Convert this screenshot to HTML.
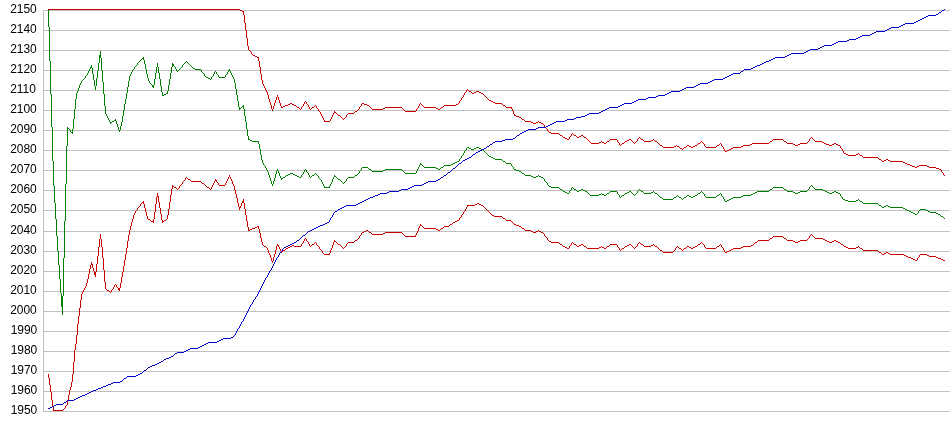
<!DOCTYPE html>
<html lang="en"><head><meta charset="utf-8"><title>Rating chart</title>
<style>html,body{margin:0;padding:0;background:#fff}body{width:950px;height:435px;overflow:hidden}svg{display:block}text{font-family:"Liberation Sans",Arial,sans-serif;font-size:12px;letter-spacing:-0.1px;fill:#000}path{fill:none;stroke-width:1;stroke-linecap:butt}</style></head><body>
<svg width="950" height="435" viewBox="0 0 950 435">
<rect width="950" height="435" fill="#fff"/>
<g shape-rendering="crispEdges" stroke="#c0c0c0" stroke-width="1">
<line x1="43" y1="10.5" x2="950" y2="10.5"/>
<line x1="43" y1="30.5" x2="950" y2="30.5"/>
<line x1="43" y1="50.5" x2="950" y2="50.5"/>
<line x1="43" y1="70.5" x2="950" y2="70.5"/>
<line x1="43" y1="90.5" x2="950" y2="90.5"/>
<line x1="43" y1="110.5" x2="950" y2="110.5"/>
<line x1="43" y1="130.5" x2="950" y2="130.5"/>
<line x1="43" y1="150.5" x2="950" y2="150.5"/>
<line x1="43" y1="170.5" x2="950" y2="170.5"/>
<line x1="43" y1="190.5" x2="950" y2="190.5"/>
<line x1="43" y1="210.5" x2="950" y2="210.5"/>
<line x1="43" y1="231.5" x2="950" y2="231.5"/>
<line x1="43" y1="251.5" x2="950" y2="251.5"/>
<line x1="43" y1="271.5" x2="950" y2="271.5"/>
<line x1="43" y1="291.5" x2="950" y2="291.5"/>
<line x1="43" y1="311.5" x2="950" y2="311.5"/>
<line x1="43" y1="331.5" x2="950" y2="331.5"/>
<line x1="43" y1="351.5" x2="950" y2="351.5"/>
<line x1="43" y1="371.5" x2="950" y2="371.5"/>
<line x1="43" y1="391.5" x2="950" y2="391.5"/>
<line x1="43" y1="411.5" x2="950" y2="411.5"/>
<line x1="43.5" y1="10" x2="43.5" y2="412"/>
</g>
<g>
<text x="10.3" y="12.9">2150</text>
<text x="10.3" y="32.9">2140</text>
<text x="10.3" y="52.9">2130</text>
<text x="10.3" y="72.9">2120</text>
<text x="10.3" y="92.9">2110</text>
<text x="10.3" y="112.9">2100</text>
<text x="10.3" y="132.9">2090</text>
<text x="10.3" y="152.9">2080</text>
<text x="10.3" y="172.9">2070</text>
<text x="10.3" y="192.9">2060</text>
<text x="10.3" y="212.9">2050</text>
<text x="10.3" y="233.9">2040</text>
<text x="10.3" y="253.9">2030</text>
<text x="10.3" y="273.9">2020</text>
<text x="10.3" y="293.9">2010</text>
<text x="10.3" y="313.9">2000</text>
<text x="10.8" y="333.9">1990</text>
<text x="10.8" y="353.9">1980</text>
<text x="10.8" y="373.9">1970</text>
<text x="10.8" y="393.9">1960</text>
<text x="10.8" y="413.9">1950</text>
</g>
<g shape-rendering="crispEdges">
<path transform="translate(0 .5)" stroke="#008000" d="m61 296h2m-2 1h2m-2 1h2m-2 1h2m-2 1h2m-2 1h2m-2 1h2m-2 1h2m-2 1h2m-2 1h2m-2 1h2m4 -178h2m2 4h2m17 -65h2m7 -12h2m-2 1h2m-2 1h2m9 65h2m0 -1h2m0 -1h2m26 -62h2m8 27h2m-2 1h2m8 9h2m0 -1h2m0 -1h2m4 -29h2m-2 1h2m19 3h2m0 1h6m5 8h2m0 1h2m9 -1h6m3 -7h2m9 38h2m1 -2h2m4 33h2m0 1h2m0 1h7m22 37h2m0 -1h2m1 -2h2m0 -1h2m0 -1h3m0 1h2m0 1h2m0 1h2m0 1h2m11 -2h2m10 12h6m4 -11h2m2 3h2m8 -2h6m1 -2h2m5 -8h6m1 2h2m1 2h11m0 -1h2m0 -1h17m3 4h11m4 -9h2m2 3h12m0 1h2m0 1h2m1 -2h2m1 -2h7m0 -1h2m0 -1h2m0 -1h2m0 -1h2m8 -14h2m0 1h2m0 1h3m0 -1h2m0 -1h3m0 1h2m0 1h2m6 7h2m0 1h2m0 1h2m0 1h7m1 2h2m1 2h5m3 6h2m0 1h3m0 1h2m1 2h2m1 2h6m0 1h2m0 1h3m0 -1h2m1 0h2m0 1h2m6 9h2m0 1h8m1 2h2m1 2h2m0 1h2m0 1h2m5 -4h2m1 2h2m0 -1h2m0 -1h2m0 1h2m0 1h2m3 4h9m0 -1h2m1 0h2m0 1h2m1 -2h2m1 -2h7m5 4h2m1 -2h2m0 -1h2m0 -1h2m10 0h2m1 2h7m0 -1h2m2 1h2m3 4h2m1 2h10m1 -2h2m3 0h2m3 0h2m1 -2h2m0 1h2m0 1h2m0 -1h2m0 -1h2m1 -2h2m6 4h10m1 -2h2m6 6h2m0 -1h2m0 -1h2m0 -1h2m0 -1h8m0 -1h2m0 -1h8m0 -1h2m0 -1h2m0 -1h2m0 -1h12m1 -2h2m1 -2h10m1 2h2m1 2h6m0 1h2m0 1h3m0 -1h2m0 -1h7m8 -2h8m0 1h2m0 1h2m0 1h2m0 1h3m0 -1h2m0 -1h2m0 1h2m0 1h2m3 6h2m0 1h3m0 1h8m0 -1h2m2 1h2m1 2h15m1 2h2m1 2h2m0 -1h2m0 -1h2m0 1h2m0 1h13m0 1h2m0 1h2m0 1h2m0 1h2m0 1h2m0 1h2m0 1h2m3 -5h6m0 1h2m0 1h2m0 1h6m0 1h2m0 1h2m1 2h2"/>
<path transform="translate(.5 0)" stroke="#008000" d="m48 10v17m1 0v34m1 0v33m1 0v33m1 0v34m1 0v25m1 0v17m1 0v16m1 0v17m1 0v15m1 0v14m1 0v14m1 0v14m1 0v3m1 11v8m1 -57v38m1 -75v37m1 -74v37m1 -75v38m1 -57v1m0 1v17m2 -17v1m1 0v2m2 -3v3m0 1v1m1 -15v10m1 -20v10m1 -20v10m1 -16v6m1 -8v2m1 -5v3m1 -6v3m1 -5v2m1 -4v2m1 -3v1m1 -2v1m1 -2v1m1 -3v2m1 -3v1m1 -3v2m1 -4v2m1 -4v2m1 -3v1m1 -4v2m1 1v6m1 0v6m1 0v6m1 0v4m1 -12v8m1 -15v7m1 -15v8m1 -13v5m1 -12v4m1 3v12m1 0v12m1 0v12m1 0v12m1 0v8m1 0v2m1 0v2m1 0v2m1 0v2m1 1v1m5 -5v1m1 1v3m1 0v3m1 0v3m1 0v2m1 -6v4m1 -8v4m1 -10v6m1 -12v6m1 -12v6m1 -11v5m1 -11v6m1 -12v6m1 -12v6m1 -11v5m1 -7v2m1 -4v2m1 -4v2m1 -3v1m1 -3v2m1 -3v1m1 -2v1m1 -3v2m1 -3v1m1 -2v1m1 -2v1m1 -2v1m2 -3v1m0 1v1m1 0v4m1 0v5m1 0v5m1 0v4m1 0v3m1 0v2m1 0v1m1 0v1m2 2v1m1 -9v6m1 -12v6m1 -12v6m1 -10v4m1 0v6m1 0v6m1 0v7m1 0v6m1 0v3m5 -4v2m1 -8v6m1 -12v6m1 -12v6m1 -12v6m1 -10v1m0 2v1m2 -1v1m1 0v2m1 0v2m1 0v1m1 -2v1m1 -2v1m1 -2v1m1 -2v1m1 -3v2m1 -3v1m1 -2v1m1 -2v1m1 -2v1m1 0v1m1 0v1m1 0v1m1 0v1m1 0v1m1 0v1m9 2v2m1 0v1m1 0v1m1 0v2m1 0v1m5 2v1m1 -3v2m1 -3v1m1 -3v2m1 -4v2m1 -3v1m1 0v2m1 0v1m1 0v2m7 -2v2m1 -3v1m1 -3v2m1 -3v1m1 -3v1m1 1v2m1 0v2m1 0v2m1 0v2m1 0v4m1 0v6m1 0v6m1 0v6m1 0v6m1 0v1m0 1v1m2 -3v1m2 -3v1m0 1v2m1 0v7m1 0v6m1 0v7m1 0v7m1 0v3m10 3v2m1 0v5m1 0v6m1 0v5m1 0v3m1 0v2m1 0v1m1 0v2m1 0v2m1 0v2m1 0v3m1 0v3m1 0v3m1 0v3m1 0v2m1 -5v3m1 -6v3m1 -7v4m1 -7v3m1 -5v2m1 0v2m1 0v3m1 0v2m1 1v1m4 -4v1m16 -2v2m1 -3v1m1 -3v2m1 -4v2m1 -3v1m1 0v2m1 0v1m1 0v2m1 0v2m1 0v1m1 -2v1m3 -3v1m1 -2v1m1 0v1m1 0v1m1 0v2m1 0v1m1 0v1m1 0v2m1 0v2m1 0v2m1 0v1m5 -1v1m1 -3v2m1 -4v2m1 -5v3m1 -5v2m1 -4v1m2 1v1m1 0v1m3 1v1m1 0v1m1 0v1m1 0v1m1 -2v1m1 -2v1m1 -3v2m1 -3v1m7 -3v1m3 -3v1m1 -2v1m1 -3v2m1 -3v1m1 -3v2m7 -2v1m3 1v1m31 -1v1m1 0v1m1 0v1m12 -2v2m1 -4v2m1 -4v2m1 -4v2m1 -4v1m2 1v1m1 0v1m17 1v1m3 -3v1m16 -8v2m1 -3v1m1 -3v2m1 -3v1m1 -3v2m1 -4v2m1 -3v1m1 -3v2m17 0v1m1 0v1m1 0v1m1 0v1m1 0v1m1 0v1m14 4v1m3 1v1m6 1v2m1 0v1m1 0v2m8 3v1m3 1v1m14 0v1m5 2v1m1 0v2m1 0v1m1 0v1m1 0v2m1 0v1m11 2v1m3 1v1m7 0v2m1 -3v1m1 -3v2m1 -3v1m1 0v1m3 1v1m11 1v1m1 0v1m1 0v1m12 -2v1m5 0v1m3 -3v1m8 -1v2m1 0v1m1 0v2m1 0v1m1 -2v1m3 -3v1m7 -3v1m1 0v1m1 0v1m1 0v1m1 -2v1m1 -2v1m1 -3v2m1 -3v1m1 -2v1m1 0v1m3 1v1m10 -2v1m1 0v1m3 1v1m1 0v1m1 0v1m3 1v1m11 -1v1m3 -3v1m1 -2v1m1 0v1m3 1v1m1 0v1m1 -2v1m3 -3v1m11 -3v1m3 -3v1m1 -2v1m1 0v1m1 0v1m1 0v2m1 0v1m11 -1v1m3 -3v1m1 -2v1m1 0v2m1 0v1m1 0v2m1 0v2m45 -11v1m3 -3v1m11 -1v1m3 1v1m21 -1v1m1 -2v1m1 -3v2m1 -3v1m1 -2v1m1 0v1m1 0v1m1 0v1m26 5v2m1 0v1m1 0v2m16 0v1m1 0v1m3 1v1m16 1v1m3 1v1m36 6v1m1 -3v2m1 -3v1m21 4v1m3 1v1m1 0v1"/>
<path transform="translate(0 .5)" stroke="#c80000" d="m48 9h192m0 1h2m0 1h2m9 44h2m0 1h2m0 1h2m22 50h2m0 -1h2m0 -1h3m0 -1h2m0 -1h2m0 1h2m0 1h2m1 2h2m13 0h2m10 14h6m4 -9h2m2 3h2m8 -2h6m1 -2h2m5 -8h2m0 1h3m0 1h2m3 4h11m0 -1h2m0 -1h17m3 4h11m8 -4h12m0 1h2m0 1h2m1 -2h2m1 -2h12m0 -1h2m11 -13h2m1 2h2m0 -1h2m0 -1h3m0 1h2m0 1h2m6 7h2m0 1h2m0 1h2m0 1h7m1 2h2m1 2h6m2 8h2m0 1h3m0 1h2m1 2h2m1 2h6m0 1h2m0 1h3m0 -1h2m1 0h2m0 1h2m6 9h2m0 1h8m1 2h2m1 2h2m0 1h2m0 1h2m5 -4h2m1 2h2m0 -1h2m0 -1h2m1 2h2m5 6h8m0 -1h2m1 0h2m0 1h2m1 -2h2m1 -2h7m5 4h2m1 -2h2m0 -1h2m0 -1h2m10 0h2m1 2h7m0 -1h2m2 1h2m3 4h2m1 2h11m0 -1h2m1 0h2m1 2h2m2 -1h2m1 -2h2m0 1h2m0 1h2m0 -1h2m0 -1h2m1 -2h2m6 4h10m1 -2h2m6 6h2m0 -1h2m0 -1h2m0 -1h2m0 -1h8m0 -1h2m0 -1h7m0 -1h2m0 -1h17m1 -2h2m1 -2h10m1 2h2m1 2h6m0 1h2m0 1h3m0 -1h2m0 -1h7m8 -2h7m0 1h2m0 1h2m0 1h3m0 1h3m0 -1h2m0 -1h2m0 1h2m0 1h2m4 8h2m0 1h2m0 1h8m0 -1h2m2 1h2m1 2h15m1 2h2m1 2h2m0 -1h2m0 -1h2m0 1h2m0 1h13m0 1h2m0 1h2m0 1h3m0 1h2m0 1h3m0 1h2m0 -1h2m0 -1h8m0 1h2m0 1h7m0 1h3m0 1h2"/>
<path transform="translate(.5 0)" stroke="#c80000" d="m243 12v3m1 0v8m1 0v7m1 0v8m1 0v8m1 0v4m1 0v1m1 0v1m1 0v2m1 0v1m6 3v3m1 0v6m1 0v7m1 0v6m1 0v4m1 0v2m1 0v2m1 0v2m1 0v2m1 0v3m1 0v4m1 0v3m1 0v3m1 0v4m1 0v2m1 -5v3m1 -6v3m1 -6v3m1 -6v3m1 -5v2m1 0v3m1 0v3m1 0v3m1 0v1m15 -1v1m3 1v1m1 0v1m1 -3v2m1 -3v1m1 -3v2m1 -4v2m1 -3v1m1 0v2m1 0v1m1 0v2m1 0v2m1 0v1m1 -2v1m3 -3v1m1 -2v1m1 0v2m1 0v1m1 0v2m1 0v1m1 0v2m1 0v2m1 0v2m1 0v2m1 0v1m6 -2v2m1 -4v2m1 -4v2m1 -4v2m1 -4v1m2 1v1m1 0v1m3 1v1m1 0v1m1 0v1m1 0v1m1 -2v1m1 -2v1m1 -3v2m1 -3v1m7 -3v1m3 -3v1m1 -2v1m1 -3v2m1 -3v1m1 -3v2m8 0v1m1 0v1m1 0v1m31 -1v1m1 0v1m1 0v1m12 -2v2m1 -3v1m1 -3v2m1 -4v2m1 -3v1m1 0v1m1 0v1m1 0v1m17 1v1m3 -3v1m15 -4v1m1 -3v2m1 -3v1m1 -3v2m1 -3v1m1 -3v2m1 -4v2m1 -3v1m1 -3v2m1 -3v1m1 0v1m3 1v1m12 1v1m1 0v1m1 0v1m1 0v1m1 0v1m1 0v1m14 4v1m3 1v1m6 1v1m1 0v2m1 0v3m1 0v1m7 3v1m3 1v1m14 0v1m5 2v1m1 0v2m1 0v1m1 0v1m1 0v2m1 0v1m11 2v1m3 1v1m7 0v2m1 -3v1m1 -3v2m1 -3v1m1 0v1m3 1v1m7 -1v1m3 1v1m1 0v1m1 0v1m1 0v1m1 0v1m11 -2v1m5 0v1m3 -3v1m8 -1v2m1 0v1m1 0v2m1 0v1m1 -2v1m3 -3v1m7 -3v1m1 0v1m1 0v1m1 0v1m1 -2v1m1 -2v1m1 -3v2m1 -3v1m1 -2v1m1 0v1m3 1v1m10 -2v1m1 0v1m3 1v1m1 0v1m1 0v1m3 1v1m14 -2v1m3 1v1m3 1v1m1 -2v1m3 -3v1m11 -3v1m3 -3v1m1 -2v1m1 0v1m1 0v1m1 0v2m1 0v1m11 -1v1m3 -3v1m1 -2v1m1 0v2m1 0v1m1 0v2m1 0v2m45 -9v1m3 -3v1m11 -1v1m3 1v1m21 -1v1m1 -2v1m1 -3v2m1 -3v1m1 -2v1m1 0v1m1 0v1m1 0v1m26 5v2m1 0v1m1 0v2m1 0v2m15 0v1m1 0v1m3 1v1m16 1v1m3 1v1m60 9v2m1 0v1m1 0v2m1 0v1"/>
<path transform="translate(0 .5)" stroke="#c80000" d="m53 410h10m28 -146h2m1 8h2m-2 1h2m-2 1h2m11 16h2m9 -2h2m-2 1h2m22 -87h2m4 17h2m1 2h3m3 -25h2m3 25h2m0 -1h2m6 -34h2m0 1h2m12 -8h2m1 2h10m1 2h2m3 4h2m6 -7h2m2 5h6m14 22h2m1 -6h2m-2 1h2m4 28h2m0 -1h2m0 -1h3m0 -1h2m0 -1h2m5 20h2m11 -1h2m2 6h2m0 -1h2m1 -2h2m0 -1h2m0 -1h2m0 -1h2m0 1h7m11 -2h2m10 10h6m4 -13h2m2 3h2m8 -2h6m1 -2h2m5 -8h2m0 -1h2m0 -1h2m1 2h2m1 2h11m0 -1h2m0 -1h17m3 4h11m4 -11h2m2 3h12m0 1h2m0 1h2m1 -2h2m1 -2h5m1 -2h2m1 -2h2m0 -1h2m0 -1h2m8 -15h8m0 -1h2m0 -1h2m0 1h2m0 1h2m9 10h2m0 1h8m1 2h2m1 2h5m3 4h2m0 1h3m0 1h2m1 2h2m1 2h6m0 1h2m0 1h3m0 -1h2m1 0h2m0 1h2m6 9h2m0 1h8m1 2h2m1 2h2m0 1h2m0 1h2m5 -4h2m1 2h2m0 -1h2m0 -1h2m1 2h2m1 2h12m0 -1h2m1 0h2m0 1h2m1 -2h2m1 -2h7m5 4h2m1 -2h2m0 -1h2m0 -1h2m10 0h2m1 2h7m0 -1h2m2 1h2m3 4h2m1 2h10m6 -4h2m3 0h2m1 -2h2m0 1h2m0 1h2m0 -1h2m0 -1h2m1 -2h2m6 4h10m1 -2h2m6 6h2m0 -1h2m0 -1h2m0 -1h2m0 -1h8m0 -1h2m0 -1h8m0 -1h2m2 -3h2m1 -2h11m1 -2h2m1 -2h10m1 2h2m1 2h6m0 1h2m0 1h3m0 -1h2m0 -1h7m8 -2h8m0 1h2m0 1h2m0 1h2m0 1h3m0 -1h2m0 -1h2m0 1h2m0 1h2m1 2h2m1 2h2m0 1h2m0 1h8m0 -1h2m2 1h2m1 2h15m1 2h2m1 2h2m0 -1h2m0 -1h2m0 1h2m0 1h14m0 1h2m0 1h2m0 1h3m0 1h2m0 1h2m0 1h2m3 -6h7m0 1h2m0 1h7m0 1h2m0 1h3m0 1h2m0 1h2"/>
<path transform="translate(.5 0)" stroke="#c80000" d="m48 374v4m1 0v7m1 0v7m1 0v8m1 0v7m1 0v3m10 -1v1m1 -2v1m1 -3v2m1 -3v1m1 -5v4m1 -10v6m1 -11v5m1 -8v3m1 -8v5m1 -13v8m1 -20v12m1 -24v12m1 -18v6m1 -15v9m1 -20v11m1 -19v8m1 -16v8m1 -16v8m1 -14v6m1 -8v2m1 -4v2m1 -4v2m1 -4v2m1 -5v3m1 -7v4m1 -9v5m1 -10v5m1 -9v4m1 -7v2m1 1v3m1 0v3m1 0v1m1 3v2m1 -13v8m1 -16v8m1 -17v9m1 -17v8m1 -13v5m1 0v8m1 0v11m1 0v12m1 0v12m1 0v7m1 0v1m3 1v1m1 0v1m1 -3v2m1 -3v1m1 -3v2m1 -4v2m1 -3v1m1 0v2m1 0v1m2 2v1m1 -8v5m1 -11v6m1 -11v5m1 -11v6m1 -12v6m1 -12v6m1 -12v6m1 -13v7m1 -13v6m1 -11v5m1 -9v4m1 -8v4m1 -7v3m1 -7v4m1 -6v2m1 -4v2m1 -3v1m1 -3v2m1 -3v1m1 -2v1m1 -3v2m1 -3v1m2 -3v1m0 1v1m1 0v4m1 0v4m1 0v4m1 0v3m3 1v1m3 -2v2m0 1v1m1 -11v7m1 -15v8m1 -15v7m1 -11v3m1 1v5m1 0v6m1 0v6m1 0v6m1 0v1m0 1v1m4 -4v1m1 -5v4m1 -10v6m1 -13v7m1 -14v7m1 -13v6m1 -10v1m0 1v2m4 -1v1m1 0v1m1 -2v1m1 -3v2m1 -3v1m1 -2v1m1 -3v2m1 -3v1m1 -2v1m1 -3v2m1 -3v1m1 0v1m3 1v1m11 1v1m3 1v1m1 0v1m1 0v1m3 1v1m1 0v1m1 -3v2m1 -4v2m1 -4v2m1 -4v2m1 -4v1m1 1v1m1 0v1m1 0v2m7 -2v2m1 -4v2m1 -4v2m1 -4v2m1 -4v2m1 0v2m1 0v2m1 0v3m1 0v2m1 0v4m1 0v4m1 0v4m1 0v5m1 0v4m1 1v2m1 -4v1m1 -4v3m2 -7v2m1 2v6m1 0v6m1 0v6m1 0v6m1 0v3m10 -3v2m1 0v4m1 0v5m1 0v4m1 0v3m1 0v1m3 1v1m1 0v2m1 0v3m1 0v2m1 0v3m1 0v3m1 0v2m1 -6v4m1 -7v3m1 -7v4m1 -8v4m1 -6v1m1 1v1m1 0v2m1 0v2m1 1v1m4 -4v1m16 -6v2m1 -3v1m1 -3v2m1 -4v2m1 -3v1m1 0v2m1 0v1m1 0v2m1 0v2m1 0v1m1 -2v1m3 -3v1m1 -2v1m1 0v2m1 0v1m1 0v1m1 0v2m1 0v1m1 0v1m1 0v2m1 0v1m6 -1v1m1 -4v3m1 -5v2m1 -5v3m1 -6v3m1 -5v1m2 1v1m1 0v1m3 1v1m1 0v1m1 0v1m1 0v1m1 -2v1m1 -2v1m1 -3v2m1 -3v1m7 -3v1m3 -3v1m1 -2v1m1 -3v2m1 -3v1m1 -3v2m7 -4v1m3 1v1m31 -1v1m1 0v1m1 0v1m11 -1v1m1 -3v2m1 -4v2m1 -5v3m1 -5v2m1 -4v1m2 1v1m1 0v1m17 1v1m3 -3v1m6 -3v1m3 -3v1m7 -6v2m1 -3v1m1 -3v2m1 -3v1m1 -3v2m1 -3v1m1 -3v2m1 -4v2m1 -3v1m16 -1v1m1 0v1m1 0v1m1 0v1m1 0v1m1 0v1m1 0v1m1 0v1m1 0v1m11 2v1m3 1v1m6 1v1m1 0v1m1 0v1m8 3v1m3 1v1m14 0v1m5 2v1m1 0v2m1 0v1m1 0v1m1 0v2m1 0v1m11 2v1m3 1v1m7 0v2m1 -3v1m1 -3v2m1 -3v1m1 0v1m3 1v1m7 -1v1m3 1v1m15 -2v1m5 0v1m3 -3v1m8 -1v2m1 0v1m1 0v2m1 0v1m1 -2v1m3 -3v1m7 -3v1m1 0v1m1 0v1m1 0v1m1 -2v1m1 -2v1m1 -3v2m1 -3v1m1 -2v1m1 0v1m3 1v1m10 -2v1m1 0v1m3 1v1m1 0v1m1 0v1m3 1v1m11 -1v1m1 -2v1m1 -3v2m1 -3v1m1 -2v1m1 0v1m3 1v1m1 0v1m1 -2v1m3 -3v1m11 -3v1m3 -3v1m1 -2v1m1 0v1m1 0v1m1 0v2m1 0v1m11 -1v1m3 -3v1m1 -2v1m1 0v2m1 0v1m1 0v2m1 0v2m29 -8v1m1 -2v1m3 -3v1m12 -3v1m3 -3v1m11 -1v1m3 1v1m21 -1v1m1 -2v1m1 -3v2m1 -3v1m1 -2v1m1 0v1m1 0v1m1 0v1m26 5v1m3 1v1m15 0v1m1 0v1m3 1v1m16 1v1m3 1v1m36 4v2m1 -3v1m1 -3v2"/>
<path transform="translate(0 .5)" stroke="#0000c8" d="m48 408h2m0 -1h2m0 -1h2m0 -1h2m0 -1h7m1 -2h2m1 -2h7m0 -1h2m0 -1h2m0 -1h2m0 -1h2m0 -1h3m0 -1h2m0 -1h2m0 -1h2m0 -1h2m0 -1h3m0 -1h2m0 -1h3m0 -1h2m0 -1h3m0 -1h2m0 -1h3m0 -1h2m0 -1h7m0 -1h2m2 -3h2m1 -2h9m0 -1h2m0 -1h2m0 -1h2m2 -3h2m2 -3h2m0 -1h2m0 -1h3m0 -1h2m0 -1h2m0 -1h2m0 -1h2m1 -2h2m0 -1h3m0 -1h2m0 -1h2m2 -3h2m0 -1h7m0 -1h2m0 -1h2m0 -1h2m0 -1h8m0 -1h2m0 -1h2m0 -1h2m0 -1h2m0 -1h2m0 -1h9m0 -1h2m0 -1h2m0 -1h2m0 -1h8m0 -1h2m51 -90h2m0 -1h2m0 -1h2m0 -1h2m0 -1h2m0 -1h2m1 -2h2m4 -5h2m3 -4h2m0 -1h2m0 -1h2m0 -1h2m0 -1h2m0 -1h2m0 -1h3m0 -1h2m0 -1h2m0 -1h2m6 -11h2m1 -2h2m0 -1h2m0 -1h2m0 -1h2m0 -1h10m0 -1h2m0 -1h2m0 -1h2m0 -1h2m0 -1h2m0 -1h2m0 -1h2m0 -1h3m0 -1h2m0 -1h3m0 -1h2m0 -1h7m0 -1h2m0 -1h10m0 -1h2m0 -1h7m0 -1h2m0 -1h2m0 -1h2m0 -1h8m0 -1h2m0 -1h2m0 -1h2m0 -1h8m0 -1h2m0 -1h2m1 -2h2m1 -2h2m2 -3h2m3 -4h2m4 -5h2m2 -3h2m0 -1h2m0 -1h2m0 -1h2m2 -3h2m1 -2h2m0 -1h2m0 -1h2m0 -1h2m0 -1h2m1 -2h2m1 -2h2m1 -2h2m0 -1h7m0 -1h3m0 -1h8m0 -1h2m2 -3h2m1 -2h2m0 -1h2m0 -1h2m0 -1h2m0 -1h8m0 -1h2m0 -1h8m0 -1h2m0 -1h2m0 -1h2m0 -1h2m0 -1h2m0 -1h9m0 -1h2m0 -1h7m0 -1h2m0 -1h5m0 -1h4m0 -1h2m0 -1h2m0 -1h10m0 -1h2m0 -1h2m0 -1h2m0 -1h2m0 -1h2m0 -1h9m0 -1h2m0 -1h2m0 -1h2m0 -1h8m0 -1h2m0 -1h2m0 -1h2m0 -1h8m0 -1h2m0 -1h8m0 -1h2m0 -1h7m0 -1h2m0 -1h2m0 -1h2m0 -1h9m0 -1h2m0 -1h2m0 -1h2m0 -1h8m0 -1h2m0 -1h2m0 -1h2m0 -1h8m0 -1h2m0 -1h2m0 -1h2m0 -1h9m0 -1h2m0 -1h2m0 -1h2m0 -1h2m0 -1h2m0 -1h7m1 -2h2m1 -2h7m0 -1h2m0 -1h2m0 -1h2m0 -1h3m0 -1h2m0 -1h2m0 -1h2m0 -1h3m0 -1h2m0 -1h2m0 -1h2m0 -1h10m0 -1h2m0 -1h2m0 -1h2m0 -1h13m0 -1h2m0 -1h2m0 -1h2m0 -1h8m0 -1h2m0 -1h2m0 -1h2m0 -1h8m0 -1h2m0 -1h2m0 -1h2m0 -1h9m0 -1h2m0 -1h7m0 -1h2m0 -1h2m0 -1h2m0 -1h8m0 -1h2m0 -1h2m0 -1h2m0 -1h9m0 -1h2m0 -1h2m0 -1h2m0 -1h8m0 -1h2m0 -1h2m0 -1h2m0 -1h9m0 -1h2m0 -1h2m0 -1h2m0 -1h2m0 -1h2m0 -1h2m0 -1h2m0 -1h8m0 -1h2m1 -2h2m1 -2h2"/>
<path transform="translate(.5 0)" stroke="#0000c8" d="m63 403v1m3 -3v1m56 -22v1m1 -2v1m3 -3v1m16 -6v1m1 -2v1m3 -3v1m1 -2v1m16 -9v1m10 -6v1m1 -2v1m59 -19v1m1 -2v1m1 -3v2m1 -4v2m1 -4v2m1 -3v1m1 -3v2m1 -4v2m1 -4v2m1 -3v1m1 -3v2m1 -4v2m1 -4v2m1 -4v2m1 -4v2m1 -4v2m1 -4v2m1 -4v2m1 -3v1m1 -3v2m1 -4v2m1 -3v1m1 -3v2m1 -3v1m1 -3v2m1 -4v2m1 -4v2m1 -4v2m1 -4v2m1 -4v2m1 -4v2m1 -4v2m1 -4v2m1 -3v1m1 -3v2m1 -4v2m1 -4v2m1 -3v1m1 -3v2m1 -4v2m1 -4v2m1 -4v2m1 -4v2m1 -4v2m1 -3v1m1 -3v2m1 -4v2m1 -3v1m1 -2v1m1 -3v2m1 -3v1m13 -8v1m3 -3v1m1 -2v1m1 -2v1m1 -2v1m3 -3v1m1 -2v1m1 -2v1m22 -13v2m1 -4v2m1 -3v1m1 -3v2m1 -4v2m1 -3v1m3 -3v1m103 -33v1m3 -3v1m3 -3v1m1 -2v1m3 -3v1m1 -2v1m1 -2v1m3 -3v1m1 -2v1m1 -2v1m1 -2v1m3 -3v1m1 -2v1m9 -6v1m1 -2v1m3 -3v1m11 -7v1m3 -3v1m3 -3v1m23 -7v1m1 -2v1m3 -3v1m221 -63v1m3 -3v1m195 -58v1m3 -3v1m3 -3v1"/>
</g></svg></body></html>
